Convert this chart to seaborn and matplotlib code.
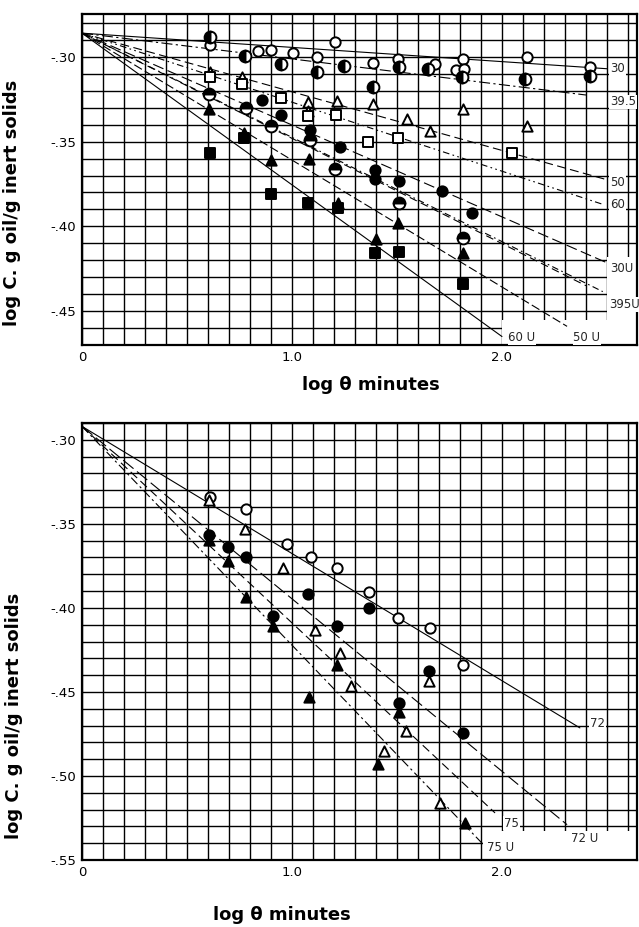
import numpy as np
import pandas as pd
import matplotlib
matplotlib.use("Agg")
import matplotlib.pyplot as plt
import seaborn as sns
from matplotlib.ticker import MultipleLocator, FixedLocator, FuncFormatter
from matplotlib.patches import Rectangle

sns.set_theme(style="white")
plt.rcParams['font.family'] = ['DejaVu Sans']

# ---------------- top panel data ----------------
t30_x = [0.61, 0.84, 0.90, 1.005, 1.12, 1.205, 1.386, 1.505, 1.68, 1.78, 1.815, 1.82, 2.12, 2.42]
t30_y = [-0.293, -0.2965, -0.296, -0.298, -0.300, -0.291, -0.3035, -0.3013, -0.304, -0.3077, -0.301, -0.307, -0.300, -0.306]
t395_x = [0.61, 0.776, 0.95, 1.12, 1.25, 1.386, 1.51, 1.65, 1.81, 2.11, 2.42]
t395_y = [-0.288, -0.2994, -0.304, -0.309, -0.3053, -0.3176, -0.306, -0.307, -0.312, -0.313, -0.311]
t50_x = [0.61, 0.76, 1.077, 1.077, 1.214, 1.386, 1.55, 1.657, 1.815, 2.12]
t50_y = [-0.309, -0.312, -0.3265, -0.332, -0.326, -0.328, -0.3365, -0.344, -0.3306, -0.341]
t60_x = [0.61, 0.76, 0.95, 1.077, 1.21, 1.36, 1.505, 2.05]
t60_y = [-0.312, -0.316, -0.3245, -0.335, -0.334, -0.350, -0.348, -0.357]
t30u_x = [0.605, 0.78, 0.90, 1.086, 1.205, 1.51, 1.814]
t30u_y = [-0.322, -0.330, -0.341, -0.349, -0.366, -0.3865, -0.407]
t395u_x = [0.855, 0.95, 1.086, 1.23, 1.395, 1.395, 1.51, 1.714, 1.857]
t395u_y = [-0.3255, -0.334, -0.343, -0.353, -0.367, -0.372, -0.3735, -0.3794, -0.3924]
t50u_x = [0.605, 0.77, 0.90, 1.08, 1.22, 1.40, 1.505, 1.814]
t50u_y = [-0.3306, -0.345, -0.3606, -0.360, -0.386, -0.4076, -0.398, -0.416]
t60u_x = [0.61, 0.77, 0.90, 1.077, 1.22, 1.395, 1.51, 1.814]
t60u_y = [-0.357, -0.348, -0.381, -0.3865, -0.389, -0.416, -0.415, -0.434]

top_line_labels = ["30", "39.5", "50", "60", "30U", "", "395U", "50 U", "60 U"]
top_line_start_y = -0.286
top_line_end_x = [2.50, 2.40, 2.50, 2.48, 2.50, 2.40, 2.48, 2.31, 2.00]
top_line_end_y = [-0.307, -0.3225, -0.3725, -0.387, -0.4215, -0.435, -0.4385, -0.459, -0.465]

# ---------------- bottom panel data ----------------
b72_x = [0.61, 0.78, 0.976, 1.09, 1.214, 1.367, 1.505, 1.657, 1.814]
b72_y = [-0.334, -0.341, -0.362, -0.3697, -0.376, -0.3905, -0.406, -0.412, -0.434]
b72u_x = [0.605, 0.696, 0.78, 0.91, 1.077, 1.214, 1.367, 1.51, 1.652, 1.814]
b72u_y = [-0.3565, -0.3637, -0.3697, -0.405, -0.392, -0.411, -0.400, -0.4566, -0.4375, -0.4744]
b75_x = [0.605, 0.776, 0.958, 1.11, 1.23, 1.28, 1.438, 1.543, 1.652, 1.705]
b75_y = [-0.3357, -0.353, -0.376, -0.413, -0.4268, -0.4464, -0.485, -0.4732, -0.4435, -0.516]
b75u_x = [0.605, 0.696, 0.78, 0.91, 1.081, 1.214, 1.41, 1.51, 1.824]
b75u_y = [-0.3595, -0.372, -0.3934, -0.411, -0.453, -0.434, -0.4929, -0.462, -0.528]

bot_line_labels = ["72", "72 U", "75", "75 U"]
bot_line_start_y = -0.292
bot_line_end_x = [2.371, 2.31, 1.967, 1.905]
bot_line_end_y = [-0.4714, -0.529, -0.522, -0.540]

x_ticks = [0.0, 1.0, 2.0]
x_tick_labels = ["0", "1.0", "2.0"]
top_y_ticks = [-0.30, -0.35, -0.40, -0.45]
bot_y_ticks = [-0.30, -0.35, -0.40, -0.45, -0.50, -0.55]

# ---------------- figure ----------------
W, H = 639, 927
fig = plt.figure(figsize=(W / 100, H / 100), dpi=100)
ax1 = fig.add_axes([82 / W, 1 - 345 / H, 555 / W, 331 / H])
ax2 = fig.add_axes([82 / W, 1 - 860 / H, 555 / W, 437 / H])

yfmt = FuncFormatter(lambda v, p: "-." + f"{abs(v):.2f}"[2:])


def style(ax, ylo, yhi, yt):
    ax.set_xlim(0, 2.643)
    ax.set_ylim(ylo, yhi)
    ax.xaxis.set_major_locator(FixedLocator(x_ticks))
    ax.set_xticklabels(x_tick_labels)
    ax.xaxis.set_minor_locator(MultipleLocator(0.1))
    ax.yaxis.set_major_locator(FixedLocator(yt))
    ax.yaxis.set_major_formatter(yfmt)
    ax.yaxis.set_minor_locator(MultipleLocator(0.01))
    ax.grid(which='both', color='black', lw=1.0)
    ax.set_axisbelow(True)
    ax.tick_params(which='both', length=0, labelsize=9.5, pad=4, colors='black')
    for s in ax.spines.values():
        s.set_color('black')
        s.set_linewidth(1.6)


style(ax1, -0.47, -0.2747, top_y_ticks)
style(ax2, -0.55, -0.29, bot_y_ticks)

# blank label areas (as on the original sheet)
ax1.add_patch(Rectangle((2.0, -0.4705), 0.65, 0.0155, facecolor='white', edgecolor='none', zorder=2))
ax1.add_patch(Rectangle((2.5, -0.4705), 0.15, 0.0525, facecolor='white', edgecolor='none', zorder=2))
ax2.add_patch(Rectangle((1.91, -0.5505), 0.74, 0.0175, facecolor='white', edgecolor='none', zorder=2))

MS = 55
LW = 1.4


def pts(ax, xs, ys, marker, face):
    sns.scatterplot(x=xs, y=ys, ax=ax, marker=marker, s=MS, color=face,
                    edgecolor='black', linewidth=LW, zorder=5, legend=False)


def half(ax, xs, ys, fs):
    sns.lineplot(x=xs, y=ys, ax=ax, estimator=None, sort=False, marker='o',
                 linestyle='', fillstyle=fs, markersize=8.5, markerfacecolor='black',
                 markerfacecoloralt='white', markeredgecolor='black',
                 markeredgewidth=LW, color='black', zorder=5, legend=False)


top_styles = ['-', (0, (10, 3, 2, 3)), (0, (8, 4)), (0, (6, 3, 1.5, 3, 1.5, 3)),
              (0, (10, 4)), (0, (7, 4)), (0, (6, 3, 1.5, 3)), (0, (8, 3)), '-']
for lab, xe, ye, ls in zip(top_line_labels, top_line_end_x, top_line_end_y, top_styles):
    sns.lineplot(x=[0.0, xe], y=[top_line_start_y, ye], ax=ax1, color='black',
                 lw=0.8, linestyle=ls, zorder=3, estimator=None, sort=False)

bot_styles = ['-', (0, (12, 4)), (0, (8, 4)), (0, (8, 3, 2, 3))]
for lab, xe, ye, ls in zip(bot_line_labels, bot_line_end_x, bot_line_end_y, bot_styles):
    sns.lineplot(x=[0.0, xe], y=[bot_line_start_y, ye], ax=ax2, color='black',
                 lw=0.8, linestyle=ls, zorder=3, estimator=None, sort=False)

pts(ax1, t30_x, t30_y, 'o', 'white')
half(ax1, t395_x, t395_y, 'left')
pts(ax1, t50_x, t50_y, '^', 'white')
pts(ax1, t60_x, t60_y, 's', 'white')
half(ax1, t30u_x, t30u_y, 'top')
pts(ax1, t395u_x, t395u_y, 'o', 'black')
pts(ax1, t50u_x, t50u_y, '^', 'black')
pts(ax1, t60u_x, t60u_y, 's', 'black')

pts(ax2, b72_x, b72_y, 'o', 'white')
pts(ax2, b72u_x, b72u_y, 'o', 'black')
pts(ax2, b75_x, b75_y, '^', 'white')
pts(ax2, b75u_x, b75u_y, '^', 'black')

# line labels
box = dict(facecolor='white', edgecolor='none', pad=0.5)
top_lab_pos = {"30": (2.515, -0.307), "39.5": (2.515, -0.3265), "50": (2.515, -0.374),
               "60": (2.515, -0.387), "30U": (2.515, -0.425), "395U": (2.51, -0.446),
               "60 U": (2.03, -0.4655), "50 U": (2.34, -0.4655)}
for lab, (lx, ly) in top_lab_pos.items():
    ax1.text(lx, ly, lab, fontsize=8.5, va='center', ha='left', bbox=box, zorder=6)
bot_lab_pos = {"72": (2.42, -0.4685), "72 U": (2.33, -0.537), "75": (2.01, -0.528),
               "75 U": (1.93, -0.5423)}
for lab, (lx, ly) in bot_lab_pos.items():
    ax2.text(lx, ly, lab, fontsize=8.5, va='center', ha='left', bbox=box, zorder=6)

ylab = "log C. g oil/g inert solids"
xlab = "log θ minutes"
ax1.set_ylabel(ylab, fontsize=13, fontweight='bold', color='black')
ax1.yaxis.set_label_coords(-0.11, 0.43)
ax2.set_ylabel(ylab, fontsize=13, fontweight='bold', color='black')
ax2.yaxis.set_label_coords(-0.106, 0.33)
ax1.set_xlabel(xlab, fontsize=13, fontweight='bold', color='black')
ax1.xaxis.set_label_coords(0.52, -0.095)
ax2.set_xlabel(xlab, fontsize=13, fontweight='bold', color='black')
ax2.xaxis.set_label_coords(0.36, -0.105)

fig.savefig("out.png", dpi=100, facecolor='white')
